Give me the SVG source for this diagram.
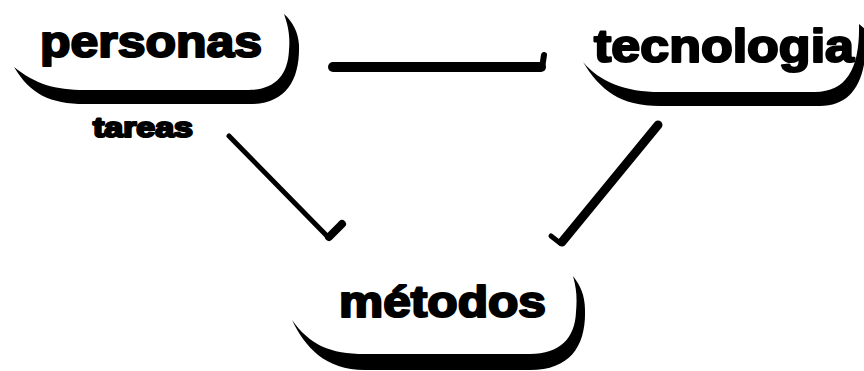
<svg xmlns="http://www.w3.org/2000/svg" width="864" height="371" viewBox="0 0 864 371">
<style>
.lbl{font-family:"Liberation Sans",Arial,sans-serif;font-weight:bold;fill:#000;stroke:#000;stroke-width:2.2;stroke-linejoin:round}
.shadow{fill:#000}
.con{fill:none;stroke:#000;stroke-linecap:round;stroke-linejoin:round}
</style>
<rect width="864" height="371" fill="#fff"/>
<g id="personas">
<path class="shadow" d="M14,67 C30,94 50,104 85,104 L250,104 C286,104 300,80 299,45 C298,32 293,22 284,14 C289,28 290,38 289,50 C288,76 274,90 248,90 L85,90 C55,90 35,84 14,67 Z"/>
<text class="lbl" x="40" y="57" font-size="45" textLength="222" lengthAdjust="spacingAndGlyphs">personas</text>
</g>
<g id="tecnologia">
<path class="shadow" d="M583,62 C600,90 620,106 660,106 L820,106 C853,106 868,80 866,30 L859,24 C860,68 847,92 815,92 L660,92 C625,92 600,82 583,62 Z"/>
<text class="lbl" x="594" y="62" font-size="46" textLength="260" lengthAdjust="spacingAndGlyphs">tecnologia</text>
</g>
<g id="metodos">
<path class="shadow" d="M292,320 C305,347 325,370 365,370 L530,370 C571,370 586,345 585,310 C585,295 580,285 573,276 C577,290 577,300 576,312 C575,338 560,354 530,354 L365,354 C330,354 310,345 292,320 Z"/>
<text class="lbl" x="339" y="317" font-size="44" textLength="207" lengthAdjust="spacingAndGlyphs">métodos</text>
</g>
<g id="tareas">
<text class="lbl" x="93" y="137" font-size="27" stroke-width="1.2" textLength="100" lengthAdjust="spacingAndGlyphs">tareas</text>
</g>
<g id="connectors">
<path class="con" stroke-width="10" d="M333,67 L541,67"/>
<path class="con" stroke-width="6" d="M542,68 L544,55"/>
<path class="con" stroke-width="5" d="M229,136 L328,237"/>
<path class="con" stroke-width="8" d="M329,237 L342,224"/>
<path class="con" stroke-width="9" d="M658,125 L562,242"/>
<path class="con" stroke-width="5" d="M560,243 L551,236"/>
</g>
</svg>
